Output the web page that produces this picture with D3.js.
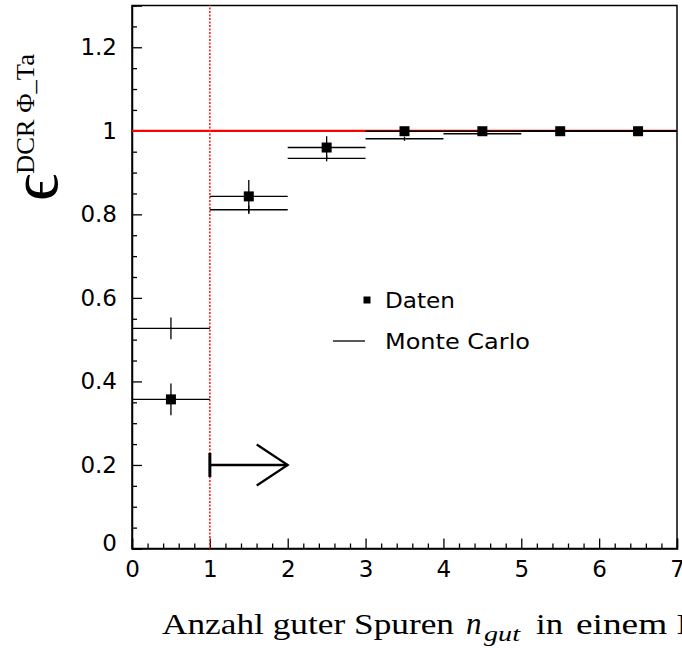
<!DOCTYPE html>
<html>
<head>
<meta charset="utf-8">
<script src="https://cdn.jsdelivr.net/npm/d3@7"></script>
<style>
  html, body { margin: 0; padding: 0; background: #fff; overflow: hidden; }
  svg { display: block; }
</style>
</head>
<body>
<svg id="chart" width="682" height="652"></svg>
<script>
// ---- data ----
const binCenters = [0.5, 1.5, 2.5, 3.5, 4.5, 5.5, 6.5];
const binHalfWidth = 0.5;
const dataValues = [0.357, 0.843, 0.960, 0.999, 0.999, 0.999, 0.999];
const dataErrors = [0.038, 0.039, 0.027, 0.005, 0.002, 0.001, 0.001];
const mcValues   = [0.527, 0.811, 0.934, 0.981, 0.993, 1.000, 1.000];
const mcErrors   = [0.026, 0.010, 0.007, 0.005, 0.002, 0.001, 0.001];
const xTicks = [0, 1, 2, 3, 4, 5, 6, 7];
const yTicks = [0, 0.2, 0.4, 0.6, 0.8, 1, 1.2];
const yTickLabels = ["0", "0.2", "0.4", "0.6", "0.8", "1", "1.2"];
const referenceLine = 1.0;
const cutValue = 1;
const arrowFrom = 1, arrowTo = 2, arrowLevel = 0.2;
const legendLabels = ["Daten", "Monte Carlo"];

// ---- layout ----
const svg = d3.select("#chart");
const x = d3.scaleLinear().domain([0, 7]).range([132, 677]);
const y = d3.scaleLinear().domain([0, 1.3]).range([548.5, 5.5]);
const tickFont = "'DejaVu Sans', Verdana, sans-serif";
const serif = "'Liberation Serif', 'DejaVu Serif', 'Times New Roman', serif";

// frame
svg.append("rect")
  .attr("x", x(0)).attr("y", y(1.3))
  .attr("width", x(7) - x(0)).attr("height", y(0) - y(1.3))
  .attr("fill", "none").attr("stroke", "#000").attr("stroke-width", 1.5);

// minor ticks
const yMinor = d3.range(0, 1.3001, 0.05).filter(v => yTicks.every(t => Math.abs(t - v) > 1e-6));
const xMinor = d3.range(0, 7.0001, 0.2).filter(v => xTicks.every(t => Math.abs(t - v) > 1e-6));

const gy = svg.append("g").attr("transform", `translate(${x(0)},0)`)
  .call(d3.axisLeft(y).tickValues(yTicks).tickSize(-10).tickPadding(15)
    .tickFormat((d, i) => yTickLabels[i]));
svg.append("g").attr("transform", `translate(${x(0)},0)`)
  .call(d3.axisLeft(y).tickValues(yMinor).tickSize(-5).tickFormat(""))
  .call(g => g.select(".domain").remove());

const gx = svg.append("g").attr("transform", `translate(0,${y(0)})`)
  .call(d3.axisBottom(x).tickValues(xTicks).tickSize(-10).tickPadding(12).tickFormat(d3.format("d")));
svg.append("g").attr("transform", `translate(0,${y(0)})`)
  .call(d3.axisBottom(x).tickValues(xMinor).tickSize(-5).tickFormat(""))
  .call(g => g.select(".domain").remove());

svg.selectAll(".tick line").attr("stroke", "#000").attr("stroke-width", 1.3);
svg.selectAll(".domain").attr("stroke", "#000").attr("stroke-width", 1.5);
[gx, gy].forEach(g => g.selectAll("text")
  .attr("font-family", tickFont).attr("font-size", 23).attr("fill", "#000"));
gy.selectAll(".tick").filter(d => d === 0).select("text").attr("dy", "0.1em");

// reference line at 1
svg.append("line")
  .attr("x1", x(0)).attr("x2", x(7))
  .attr("y1", y(referenceLine)).attr("y2", y(referenceLine))
  .attr("stroke", "#ff0000").attr("stroke-width", 2.2);

// vertical cut line
svg.append("line")
  .attr("x1", x(cutValue)).attr("x2", x(cutValue))
  .attr("y1", y(0)).attr("y2", y(1.3))
  .attr("stroke", "#ff2020").attr("stroke-width", 1.6)
  .attr("stroke-dasharray", "2,1.5");

// Monte Carlo: horizontal bin lines + vertical errors
const mc = svg.append("g").attr("stroke", "#000").attr("stroke-width", 1.3);
binCenters.forEach((c, i) => {
  mc.append("line")
    .attr("x1", x(c - binHalfWidth)).attr("x2", x(c + binHalfWidth))
    .attr("y1", y(mcValues[i])).attr("y2", y(mcValues[i]));
  mc.append("line")
    .attr("x1", x(c)).attr("x2", x(c))
    .attr("y1", y(mcValues[i] - mcErrors[i])).attr("y2", y(mcValues[i] + mcErrors[i]));
});

// Data: error bars + squares
const dg = svg.append("g");
binCenters.forEach((c, i) => {
  dg.append("line")
    .attr("x1", x(c - binHalfWidth)).attr("x2", x(c + binHalfWidth))
    .attr("y1", y(dataValues[i])).attr("y2", y(dataValues[i]))
    .attr("stroke", "#000").attr("stroke-width", 1.3);
  dg.append("line")
    .attr("x1", x(c)).attr("x2", x(c))
    .attr("y1", y(dataValues[i] - dataErrors[i])).attr("y2", y(dataValues[i] + dataErrors[i]))
    .attr("stroke", "#000").attr("stroke-width", 1.3);
  dg.append("rect")
    .attr("x", x(c) - 5).attr("y", y(dataValues[i]) - 5)
    .attr("width", 10).attr("height", 10).attr("fill", "#000");
});

// arrow
const ay = y(arrowLevel);
const ag = svg.append("g").attr("stroke", "#000").attr("fill", "none");
ag.append("line").attr("x1", x(arrowFrom)).attr("x2", x(arrowTo))
  .attr("y1", ay).attr("y2", ay).attr("stroke-width", 2.5);
ag.append("line").attr("x1", x(arrowFrom)).attr("x2", x(arrowFrom))
  .attr("y1", ay - 12).attr("y2", ay + 12).attr("stroke-width", 3);
ag.append("polyline")
  .attr("points", `${x(arrowTo) - 31},${ay - 20.5} ${x(arrowTo)},${ay} ${x(arrowTo) - 31},${ay + 20.5}`)
  .attr("stroke-width", 2.2);

// legend
const lg = svg.append("g");
lg.append("rect").attr("x", 363.5).attr("y", 296.5).attr("width", 7).attr("height", 7).attr("fill", "#000");
lg.append("text").attr("x", 385).attr("y", 307.5).text(legendLabels[0])
  .attr("font-family", tickFont).attr("font-size", 21)
  .attr("textLength", 70).attr("lengthAdjust", "spacingAndGlyphs").attr("fill", "#000");
lg.append("line").attr("x1", 333).attr("x2", 365).attr("y1", 341).attr("y2", 341)
  .attr("stroke", "#000").attr("stroke-width", 1.3);
lg.append("text").attr("x", 385).attr("y", 348.5).text(legendLabels[1])
  .attr("font-family", tickFont).attr("font-size", 21)
  .attr("textLength", 145).attr("lengthAdjust", "spacingAndGlyphs").attr("fill", "#000");

// y-axis title
svg.append("text")
  .attr("transform", "translate(57,201) rotate(-90)")
  .attr("font-family", serif).attr("font-size", 68).attr("fill", "#000")
  .text("\u03F5");
svg.append("text")
  .attr("transform", "translate(34,174) rotate(-90)")
  .attr("font-family", serif).attr("font-size", 25).attr("fill", "#000")
  .attr("textLength", 120).attr("lengthAdjust", "spacingAndGlyphs")
  .text("DCR \u03A6_Ta");

// x-axis title (runs off the right edge, as in the reference)
const xt = svg.append("text").attr("y", 634)
  .attr("font-family", serif).attr("font-size", 30).attr("fill", "#000");
xt.append("tspan").attr("x", 162).attr("textLength", 292).attr("lengthAdjust", "spacingAndGlyphs")
  .text("Anzahl guter Spuren");
xt.append("tspan").attr("x", 466).attr("font-style", "italic").attr("font-size", 31).text("n");
xt.append("tspan").attr("x", 484).attr("dy", 7).attr("font-style", "italic").attr("font-size", 22)
  .attr("textLength", 36).attr("lengthAdjust", "spacingAndGlyphs").text("gut");
xt.append("tspan").attr("x", 536).attr("dy", -7).attr("textLength", 27).attr("lengthAdjust", "spacingAndGlyphs").text("in");
xt.append("tspan").attr("x", 576).attr("textLength", 225).attr("lengthAdjust", "spacingAndGlyphs")
  .text("einem Ereignis");
</script>
</body>
</html>
